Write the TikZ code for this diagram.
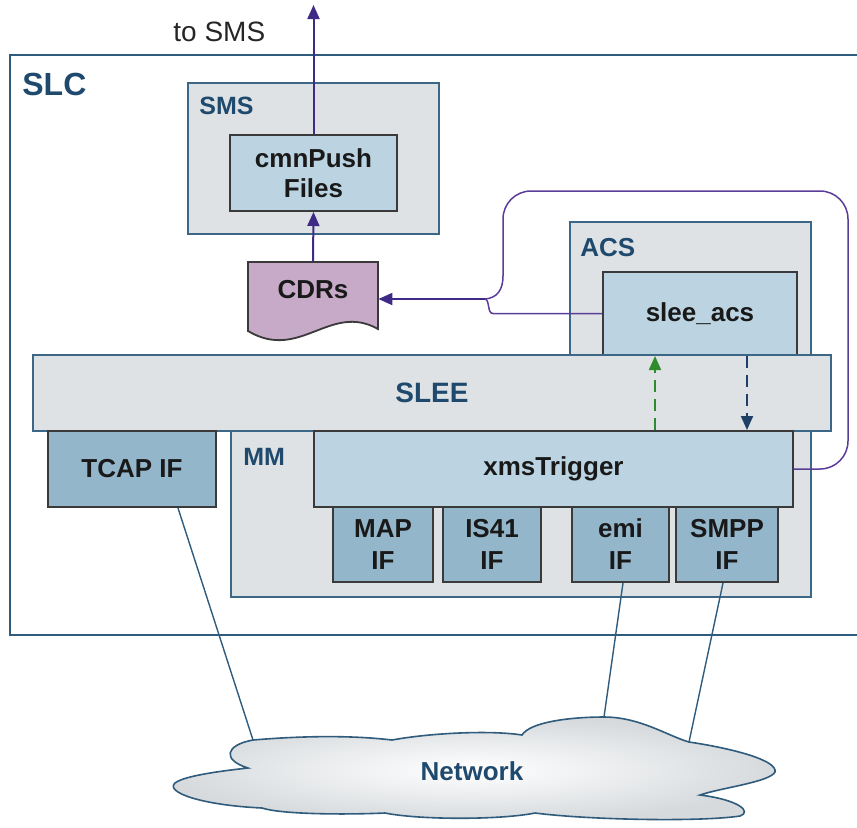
\documentclass[tikz,border=0pt]{standalone}
\usepackage{fontspec}
\setmainfont{Liberation Sans}
\usetikzlibrary{arrows.meta,calc}
\definecolor{frame}{HTML}{2F5B7C}
\definecolor{boxline}{HTML}{3D6787}
\definecolor{graybg}{HTML}{DEE2E4}
\definecolor{cloudout}{HTML}{D6DADD}
\definecolor{lightblue}{HTML}{BCD4E1}
\definecolor{ifblue}{HTML}{93B6CA}
\definecolor{darkline}{HTML}{3A3A3A}
\definecolor{lblblue}{HTML}{1F4A6E}
\definecolor{purpline}{HTML}{5A3D98}
\definecolor{purparrow}{HTML}{3F2A86}
\definecolor{cdrfill}{HTML}{C7AAC8}
\definecolor{greendash}{HTML}{2E8B2E}
\definecolor{bluedash}{HTML}{1F3F66}
\definecolor{netline}{HTML}{2F5B7C}
\begin{document}
\begin{tikzpicture}[x=0.5pt,y=-0.5pt,
  container/.style={draw=boxline, fill=graybg, line width=0.8pt, inner sep=0pt},
  innerbox/.style={draw=darkline, fill=lightblue, line width=1pt, inner sep=0pt, align=center, text=black!90,
    font=\fontsize{13}{15}\selectfont\bfseries},
  ifbox/.style={draw=darkline, fill=ifblue, line width=1pt, inner sep=0pt, align=center, text=black!90,
    font=\fontsize{13}{16}\selectfont\bfseries},
  lbl/.style={anchor=north west, inner sep=0pt, text=lblblue, font=\fontsize{12.5}{15}\selectfont\bfseries},
  purp/.style={draw=purpline, line width=0.75pt},
  purparr/.style={draw=purparrow, line width=1pt, -{Triangle[width=6pt,length=7pt]}},
  dasharr/.style={line width=1pt, dash pattern=on 6pt off 3.5pt, -{Triangle[width=6pt,length=7pt]}},
  netconn/.style={draw=netline, line width=0.7pt}
]
\useasboundingbox (0,0) rectangle (857,827);
% SLC frame
\draw[frame, line width=1.1pt] (857,55) -- (10,55) -- (10,635) -- (857,635);
\node[lbl, font=\fontsize{16}{18}\selectfont\bfseries] (slc) at (22,73) {SLC};
\node[anchor=north west, inner sep=0pt, font=\fontsize{14}{16}\selectfont, text=black!85] (tosms) at (173,22) {to SMS};
\coordinate (smstop) at (313.5,5);

% SMS
\node[container, minimum width=125.5pt, minimum height=75.5pt] (smsbox) at (313.5,158.5) {};
\node[lbl] (smslbl) at (199,97) {SMS};
\node[innerbox, minimum width=83.5pt, minimum height=38pt] (cmn) at (313.5,173) {cmnPush\\Files};

% CDRs document
\draw[darkline, fill=cdrfill, line width=0.9pt] (248,262) -- (378,262) -- (378,329)
  .. controls (330,302) and (300,362) .. (248,331) -- cycle;
\node[inner sep=0pt, minimum width=65pt, minimum height=34pt] (cdrs) at (313,296) {};
\node[inner sep=0pt, font=\fontsize{13}{15}\selectfont\bfseries, text=black!90] (cdrtxt) at (313,290) {CDRs};

% ACS
\node[container, minimum width=120.5pt, minimum height=79pt] (acs) at (690.5,301) {};
\node[lbl, font=\fontsize{13}{15}\selectfont\bfseries] (acslbl) at (580,238) {ACS};
\node[innerbox, minimum width=97pt, minimum height=41.5pt] (sleeacs) at (700,313.5) {slee\_acs};

% SLEE
\node[container, minimum width=399pt, minimum height=38pt, text=lblblue, font=\fontsize{14}{16}\selectfont\bfseries] (slee) at (432,393) {SLEE};

% TCAP
\node[ifbox, minimum width=84pt, minimum height=38pt] (tcap) at (132,469) {TCAP IF};

% MM
\node[container, minimum width=290pt, minimum height=83pt] (mm) at (521,514) {};
\node[lbl] (mmlbl) at (243,448) {MM};
\node[innerbox, minimum width=239.5pt, minimum height=38pt] (xms) at (553.5,469) {xmsTrigger};
\node[ifbox, minimum width=50pt, minimum height=37.5pt] (map) at (383,544.5) {MAP\\IF};
\node[ifbox, minimum width=49pt, minimum height=37.5pt] (is41) at (492,544.5) {IS41\\IF};
\node[ifbox, minimum width=48.5pt, minimum height=37.5pt] (emi) at (620.5,544.5) {emi\\IF};
\node[ifbox, minimum width=51pt, minimum height=37.5pt] (smpp) at (727,544.5) {SMPP\\IF};

% dashed arrows
\coordinate (gx) at (655,0);
\coordinate (bx) at (747,0);
\draw[greendash, dasharr] (xms.north -| gx) -- (sleeacs.south -| gx);
\draw[bluedash, dasharr] (sleeacs.south -| bx) -- (xms.north -| bx);

% purple connectors
\coordinate (J) at (485,299);
\coordinate (K) at (503,276);
\draw[purp] (sleeacs.west) -- (493,313.5) .. controls (487,313.5) and (490,300) .. (J);
\draw[purp, rounded corners=14pt] (xms.east) -- (848,469) -- (848,191) -- (503,191) -- (K);
\draw[purp] (K) .. controls (503,290) and (497,298) .. (J);
\draw[purparr] (J) -- (cdrs.east |- J);
\draw[purparr] (cdrs.north) -- (cmn.south);
\draw[purparr] (cmn.north) -- (smstop);

% Network cloud
\coordinate (n1) at (253,740);
\coordinate (n2) at (604,717);
\coordinate (n3) at (689,742);
\draw[netline, line width=0.8pt, inner color=white, outer color=cloudout]
  (n1) .. controls (300,736) and (350,735) .. (392,740)
  .. controls (430,733) and (490,730) .. (522,735)
  .. controls (530,722) and (570,717) .. (n2)
  .. controls (640,717) and (668,736) .. (n3)
  .. controls (730,748) and (778,760) .. (775,772)
  .. controls (770,782) and (720,788) .. (700,795)
  .. controls (740,800) and (752,812) .. (740,816)
  .. controls (700,822) and (590,820) .. (535,813)
  .. controls (500,820) and (420,820) .. (385,813)
  .. controls (340,815) and (280,814) .. (262,808)
  .. controls (200,805) and (165,792) .. (175,783)
  .. controls (185,775) and (230,770) .. (248,768)
  .. controls (222,760) and (225,745) .. (n1) -- cycle;
\node[inner sep=0pt, text=lblblue, font=\fontsize{13}{15}\selectfont\bfseries] (net) at (472,771) {Network};

% network links
\draw[netconn] ([xshift=23pt]tcap.south) -- (n1);
\draw[netconn] ([xshift=1.25pt]emi.south) -- (n2);
\draw[netconn] ([xshift=-2pt]smpp.south) -- (n3);
\end{tikzpicture}
\end{document}
